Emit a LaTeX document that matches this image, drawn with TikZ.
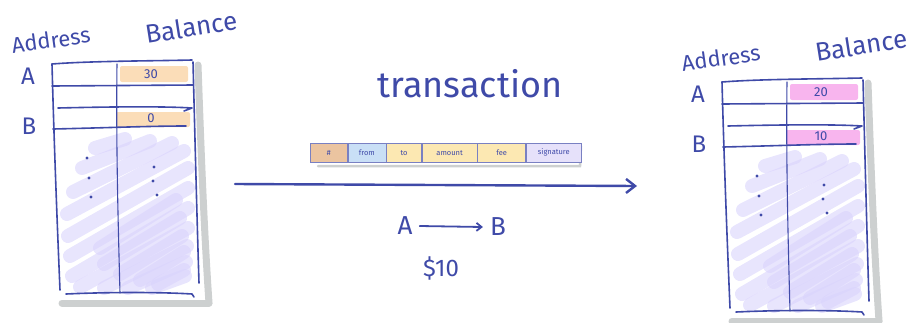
\documentclass[tikz,border=0pt]{standalone}
\usepackage{fontspec}
\setmainfont{Fira Sans}
\usetikzlibrary{arrows.meta}

\definecolor{ink}{HTML}{3F4AA8}
\definecolor{shadowgrey}{HTML}{CDD0D0}
\definecolor{hatchlav}{HTML}{D9D3FC}
\definecolor{peach}{HTML}{FBDDB8}
\definecolor{pinkfill}{HTML}{F8B5EE}
\definecolor{cellorange}{HTML}{EBC4A0}
\definecolor{cellblue}{HTML}{C9DFF6}
\definecolor{cellyellow}{HTML}{FCE8B2}
\definecolor{celllav}{HTML}{E6E1FA}

\tikzset{
  inkline/.style={draw=ink, line width=1.6pt, line cap=round, line join=round},
  thinink/.style={draw=ink, line width=1.1pt, line cap=round},
  shadowline/.style={draw=shadowgrey, line width=7pt, line cap=round},
  hatchstroke/.style={draw=hatchlav, line width=14pt, line cap=round, opacity=0.6},
  hand/.style={text=ink, inner sep=1pt},
  valfill/.style={rounded corners=2pt, draw=none},
  txcell/.style={draw=ink!70, line width=0.6pt, minimum height=19pt, inner sep=0pt,
                 text=ink, font=\fontsize{7.5}{8}\selectfont, anchor=north west},
}

% One ledger: #1,#2 shift, #3 name prefix, #4 fill colour, #5 value A, #6 value B
\newcommand{\ledgertable}[6]{%
\begin{scope}[shift={(#1,#2)}]
  % scribbled fill of the empty rows
  \foreach \ax/\ay/\bx/\by in {95/148/125/139, 82/168/150/141, 73/192/172/143,
      67/214/184/151, 68/236/188/168, 70/256/188/188, 72/276/188/208,
      80/287/188/228, 104/288/187/246, 128/288/186/262, 152/288/185/276}
    \draw[hatchstroke] (\ax,\ay) -- (\bx,\by);
  \begin{scope}[opacity=0.7]
  \foreach \ax/\ay/\bx/\by in {100/248/176/200, 104/264/180/218, 120/274/182/236,
      140/280/184/252, 158/284/184/270}
    \draw[hatchstroke] (\ax,\ay) -- (\bx,\by);
  \end{scope}
  % shadow
  \draw[shadowline] (62,303) -- (209,303);
  \draw[shadowline] (198,65) .. controls (201,150) and (204,230) .. (209,303);
  % value highlights
  \fill[#4, valfill] (120,66) rectangle (188,82);
  \fill[#4, valfill] (116,112) rectangle (190,127);
  % frame and rules
  \draw[inkline] (52,64) .. controls (90,61) and (150,61) .. (192,60);
  \draw[inkline] (52,64) .. controls (54,140) and (57,220) .. (60,290);
  \draw[inkline] (193,62) .. controls (195,140) and (197,220) .. (199,283);
  \draw[inkline] (66,294) .. controls (110,292) and (160,292) .. (192,294) -- (194,297);
  \draw[thinink] (117,64) .. controls (116,140) and (118,220) .. (120,293);
  \draw[inkline] (52,86) -- (193,85);
  \draw[inkline] (58,108) .. controls (100,107) and (160,106) .. (192,108) -- (184,111);
  \draw[inkline] (53,129) .. controls (100,128) and (150,126) .. (186,126);
  % continuation dots
  \foreach \dx/\dy in {87/158, 89/178, 91/197, 154/167, 153/181, 157/195}
    \fill[ink] (\dx,\dy) circle (1.6pt);
  % texts
  \node[hand, font=\fontsize{22}{24}\selectfont, rotate=8] (#3-addr) at (51,40) {Address};
  \node[hand, font=\fontsize{26}{28}\selectfont, rotate=9] (#3-bal) at (191,27) {Balance};
  \node[hand, font=\fontsize{24}{26}\selectfont] (#3-rowA) at (28,76) {A};
  \node[hand, font=\fontsize{24}{26}\selectfont] (#3-rowB) at (29,126) {B};
  \node[hand, font=\fontsize{13}{14}\selectfont] (#3-valA) at (151,74) {#5};
  \node[hand, font=\fontsize{13}{14}\selectfont] (#3-valB) at (151,118) {#6};
\end{scope}}

\begin{document}
\begin{tikzpicture}[x=1pt, y=-1pt]
\useasboundingbox (0,0) rectangle (920,322);

\ledgertable{0}{0}{before}{peach}{30}{0}
\ledgertable{670}{18}{after}{pinkfill}{20}{10}

% transaction record
\draw[shadowgrey, line width=2.5pt, line cap=round] (318,166) -- (580,166) -- (581,146);
\node[txcell, fill=cellorange, minimum width=37pt] (hash) at (310,143) {\#};
\node[txcell, fill=cellblue, minimum width=38pt] (from) at (hash.north east) {from};
\node[txcell, fill=cellyellow, minimum width=35pt] (to) at (from.north east) {to};
\node[txcell, fill=cellyellow, minimum width=55pt] (amount) at (to.north east) {amount};
\node[txcell, fill=cellyellow, minimum width=48pt] (fee) at (amount.north east) {fee};
\node[txcell, fill=celllav, minimum width=55pt] (sig) at (fee.north east) {signature};

\node[hand, font=\fontsize{36}{38}\selectfont] (title) at (470,84) {transaction};

% transfer arrow
\coordinate (arrowstart) at (235,184);
\coordinate (arrowend) at (637,186);
\draw[ink, line width=2.4pt, line cap=round,
      -{Straight Barb[length=9pt, width=14pt, line width=2.4pt]}] (arrowstart) -- (arrowend);

% transfer summary
\node[hand, font=\fontsize{26}{28}\selectfont] (sender) at (405,226) {A};
\node[hand, font=\fontsize{26}{28}\selectfont] (receiver) at (498,227) {B};
\draw[ink, line width=1.8pt, line cap=round,
      -{Straight Barb[length=5pt, width=8pt, line width=1.8pt]}] ([xshift=6pt]sender.east) -- ([xshift=-6pt]receiver.west);
\node[hand, font=\fontsize{24}{26}\selectfont] (amountlabel) at (441,268) {\$10};

\end{tikzpicture}
\end{document}
